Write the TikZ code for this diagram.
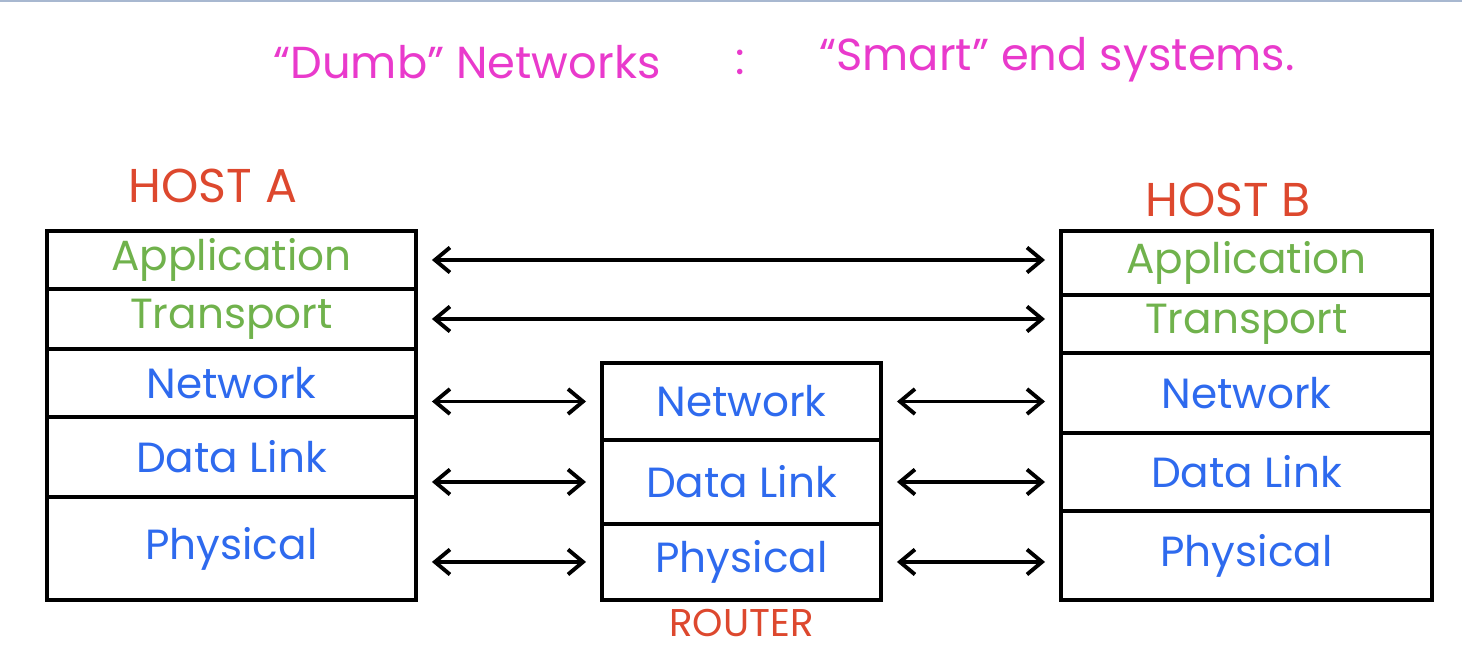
\documentclass[tikz,border=0pt]{standalone}
\usepackage{fontspec}
\setmainfont{Poppins}
\usetikzlibrary{arrows.meta,positioning}
\definecolor{titlepink}{RGB}{233,58,204}
\definecolor{hostred}{RGB}{221,72,46}
\definecolor{uppergreen}{RGB}{112,178,76}
\definecolor{lowerblue}{RGB}{46,106,238}
\definecolor{framegray}{RGB}{168,184,208}

\begin{document}
\begin{tikzpicture}[
  x=0.02cm, y=-0.02cm,
  layer/.style={
    draw=black,
    line width=2.2pt,
    inner sep=0pt,
    outer sep=0pt,
    align=center,
    font=\fontsize{24}{26}\selectfont
  },
  hostA/.style={layer, minimum width=7.38cm},
  hostB/.style={layer, minimum width=7.42cm},
  router/.style={layer, minimum width=5.58cm},
  upper/.style={text=uppergreen},
  lower/.style={text=lowerblue},
  link/.style={{Straight Barb[length=3mm,width=5mm]}-{Straight Barb[length=3mm,width=5mm]}, line width=2.2pt, draw=black, shorten <=0.32cm, shorten >=0.32cm},
  hostlabel/.style={font=\fontsize{27}{29}\selectfont, text=hostred},
  title/.style={font=\fontsize{25.5}{28}\selectfont, text=titlepink}
]
\useasboundingbox (0,0) rectangle (1462,652);
\draw[framegray, line width=1.7pt] (0,1) -- (1462,1);

% ===== Title =====
\node[title] (dumb) at (467,62) {“Dumb” Networks};
\node[title] (colon) at (740,62) {:};
\node[title] (smart) at (1057,60) {“Smart” end systems.};

% ===== Host A =====
\node[hostlabel] (hostAlabel) at (213,186) {HOST A};
\node[hostA, upper, minimum height=1.16cm, anchor=north west] (appA) at (47,231) {Application};
\node[hostA, upper, minimum height=1.2cm, below=0pt of appA] (transA) {Transport};
\node[hostA, lower, minimum height=1.36cm, below=0pt of transA] (netA) {Network};
\node[hostA, lower, minimum height=1.6cm, below=0pt of netA] (dlA) {Data Link};
\node[hostA, lower, minimum height=2.06cm, below=0pt of dlA] (phyA) {Physical};

% ===== Router =====
\node[router, lower, minimum height=1.54cm, anchor=north west] (netR) at (602,363) {Network};
\node[router, lower, minimum height=1.68cm, below=0pt of netR] (dlR) {Data Link};
\node[router, lower, minimum height=1.52cm, below=0pt of dlR] (phyR) {Physical};
\node[hostlabel, font=\fontsize{22}{24}\selectfont, below=2pt of phyR] (routerlabel) {ROUTER};

% ===== Host B =====
\node[hostlabel] (hostBlabel) at (1228,200) {HOST B};
\node[hostB, upper, minimum height=1.28cm, anchor=north west] (appB) at (1061,231) {Application};
\node[hostB, upper, minimum height=1.16cm, below=0pt of appB] (transB) {Transport};
\node[hostB, lower, minimum height=1.6cm, below=0pt of transB] (netB) {Network};
\node[hostB, lower, minimum height=1.56cm, below=0pt of netB] (dlB) {Data Link};
\node[hostB, lower, minimum height=1.78cm, below=0pt of dlB] (phyB) {Physical};

% ===== Peer links =====
\draw[link] (appA.east) -- (appA.east -| appB.west);
\draw[link] (transA.east) -- (transA.east -| transB.west);
\draw[link] (netA.east |- netR.west) -- (netR.west);
\draw[link] (dlA.east |- dlR.west) -- (dlR.west);
\draw[link] (phyA.east |- phyR.west) -- (phyR.west);
\draw[link] (netR.east) -- (netR.east -| netB.west);
\draw[link] (dlR.east) -- (dlR.east -| dlB.west);
\draw[link] (phyR.east) -- (phyR.east -| phyB.west);

\end{tikzpicture}
\end{document}
